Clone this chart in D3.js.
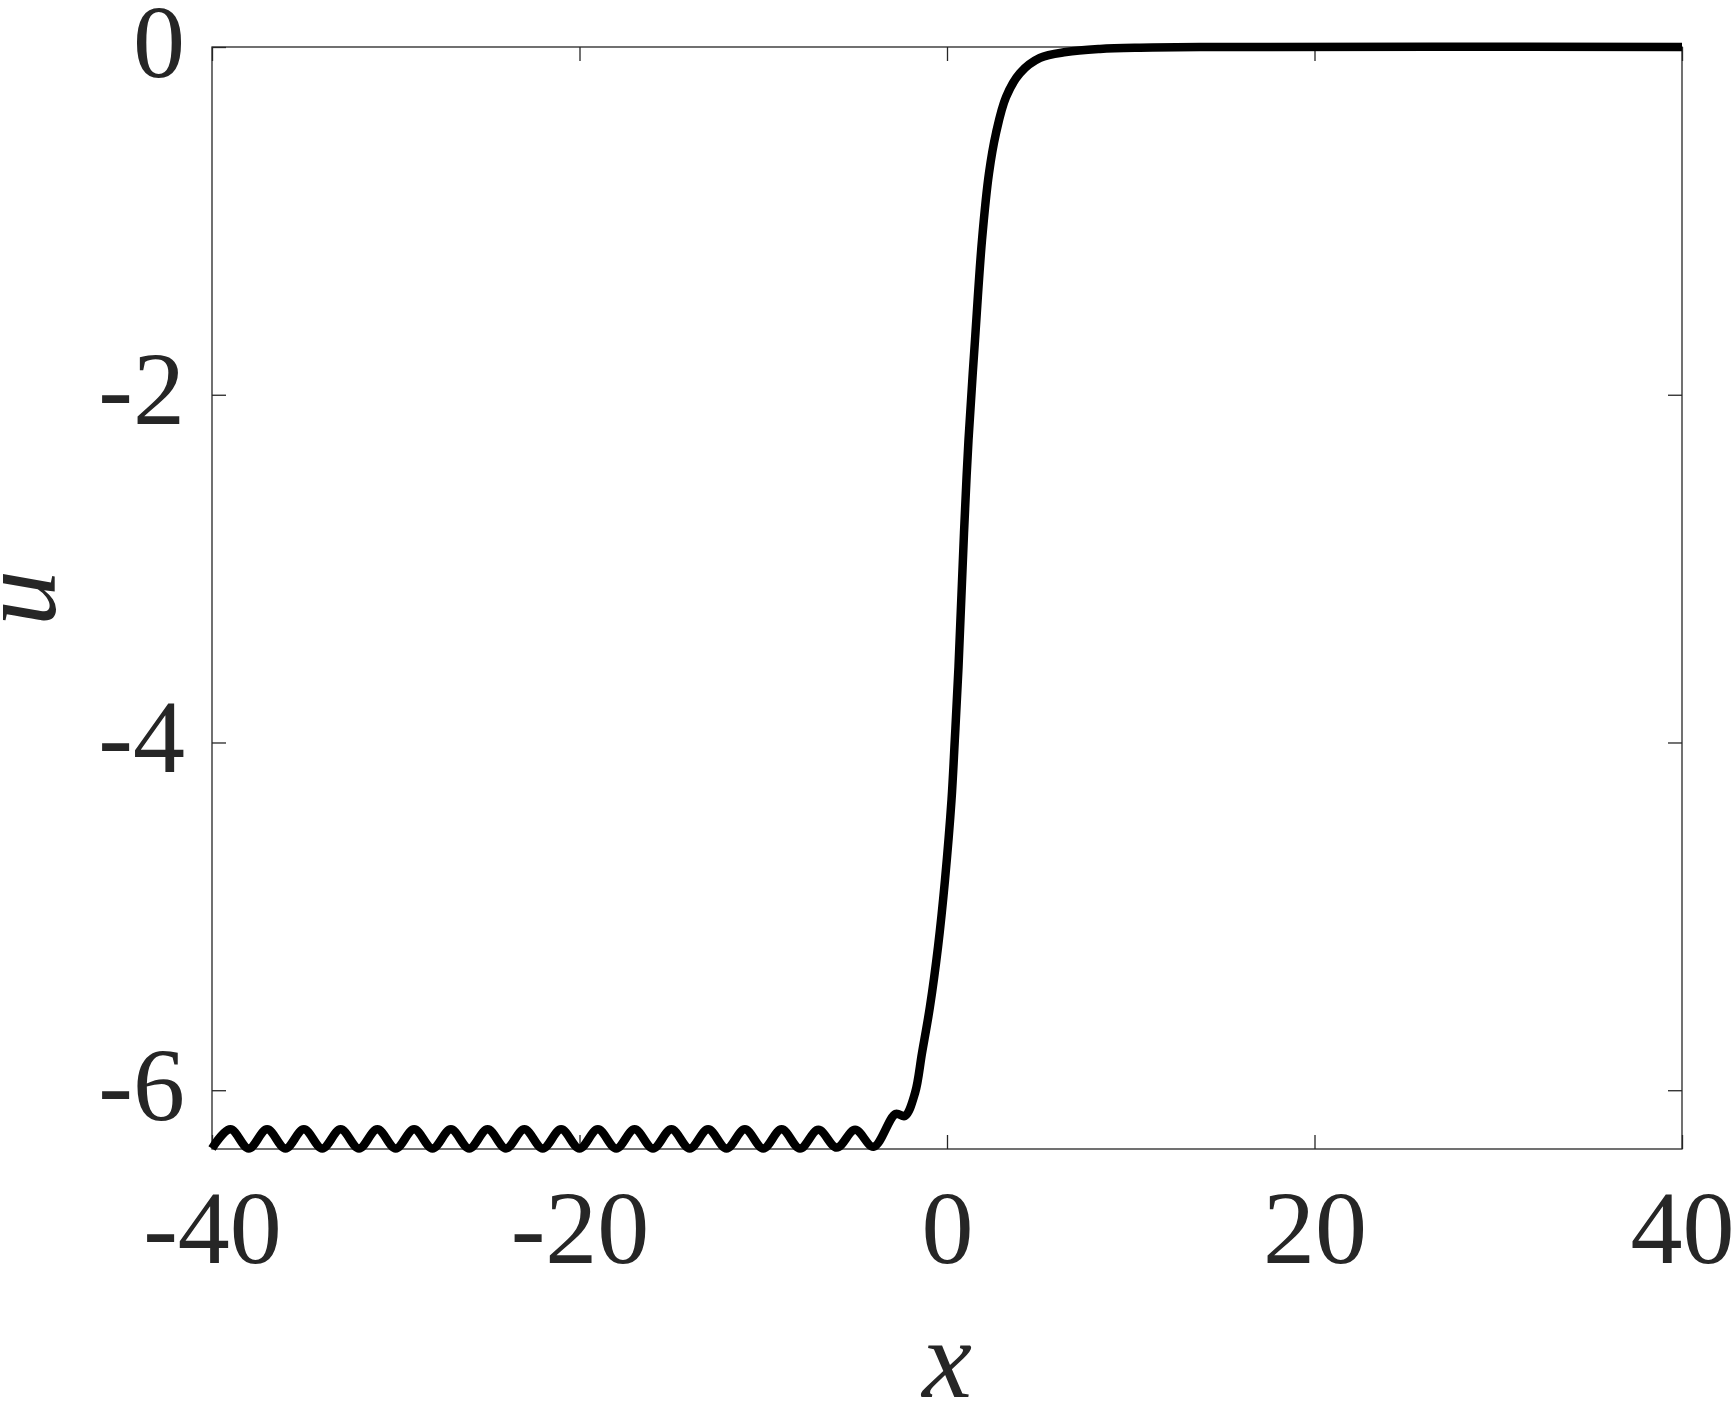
<!DOCTYPE html>
<html>
<head>
<meta charset="utf-8">
<script src="https://cdn.jsdelivr.net/npm/d3@7"></script>
<style>
  body { margin: 0; background: #fff; }
  svg { display: block; }
</style>
</head>
<body>
<svg id="chart"></svg>
<script>
// oscillating tail, read at peaks (odd x) and troughs (even x)
const waveX = [-40, -39, -38, -37, -36, -35, -34, -33, -32, -31, -30, -29, -28,
  -27, -26, -25, -24, -23, -22, -21, -20, -19, -18, -17, -16, -15, -14, -13,
  -12, -11, -10, -9, -8, -7, -6, -5, -4]
const waveU = [-6.335, -6.225, -6.335, -6.225, -6.335, -6.225, -6.335, -6.225,
  -6.335, -6.225, -6.335, -6.225, -6.335, -6.225, -6.335, -6.225, -6.335,
  -6.225, -6.335, -6.225, -6.335, -6.225, -6.335, -6.225, -6.335, -6.225,
  -6.335, -6.225, -6.335, -6.225, -6.335, -6.225, -6.335, -6.228, -6.33,
  -6.228, -6.325]

// the front and the flat part on the right
const frontX = [-2.8, -2.29, -1.74, -1.36, -0.93, -0.49, -0.11, 0.245, 0.424,
  0.626, 0.925, 1.17, 1.524, 1.905, 2.286, 2.667, 3.211, 3.973, 5.061, 6.476,
  8.327, 10.5, 13.77, 40]
const frontU = [-6.137, -6.148, -6.016, -5.786, -5.521, -5.176, -4.791, -4.331,
  -3.986, -3.566, -2.795, -2.26, -1.685, -1.11, -0.725, -0.495, -0.288, -0.15,
  -0.063, -0.029, -0.0115, -0.004, 0, 0]

const xTicks = [-40, -20, 0, 20, 40]
const yTicks = [0, -2, -4, -6]
const xDomain = [-40, 40]
const yDomain = [-6.338, 0]

const width = 1733
const height = 1401
const margin = { top: 47, right: 51, bottom: 252, left: 212 }
const innerW = width - margin.left - margin.right
const innerH = height - margin.top - margin.bottom
const ink = '#262626'
const tickFont = '"Liberation Serif", "DejaVu Serif", serif'

const svg = d3.select('#chart')
  .attr('width', width)
  .attr('height', height)

const g = svg.append('g')
  .attr('transform', `translate(${margin.left},${margin.top})`)

const xScale = d3.scaleLinear().domain(xDomain).range([0, innerW])
const yScale = d3.scaleLinear().domain(yDomain).range([innerH, 0])

/**
 * Styles an axis group drawn by d3: no domain path, inward ticks, serif labels.
 *
 * @param {*} sel The axis selection
 */
function styleAxis (sel) {
  sel.select('.domain').remove()
  sel.attr('font-family', tickFont)
    .attr('font-size', 104)
  sel.selectAll('.tick line')
    .attr('stroke', ink)
    .attr('stroke-width', 1.3)
  sel.selectAll('.tick text')
    .attr('fill', ink)
}

// bottom and top
g.append('g')
  .attr('transform', `translate(0,${innerH})`)
  .call(d3.axisBottom(xScale).tickValues(xTicks).tickSizeInner(-14)
    .tickSizeOuter(0).tickFormat(d => String(d)))
  .call(styleAxis)
  .call(a => a.selectAll('.tick text').attr('y', 114).attr('dy', 0))

g.append('g')
  .call(d3.axisTop(xScale).tickValues(xTicks).tickSizeInner(-14)
    .tickSizeOuter(0).tickFormat(''))
  .call(styleAxis)

// left and right
g.append('g')
  .call(d3.axisLeft(yScale).tickValues(yTicks).tickSizeInner(-14)
    .tickSizeOuter(0).tickFormat(d => String(d)))
  .call(styleAxis)
  .call(a => a.selectAll('.tick text').attr('x', -27).attr('dy', 29))

g.append('g')
  .attr('transform', `translate(${innerW},0)`)
  .call(d3.axisRight(yScale).tickValues(yTicks).tickSizeInner(-14)
    .tickSizeOuter(0).tickFormat(''))
  .call(styleAxis)

// box
g.append('rect')
  .attr('width', innerW)
  .attr('height', innerH)
  .attr('fill', 'none')
  .attr('stroke', ink)
  .attr('stroke-width', 1.3)

// the curve
const points = waveX.map((x, i) => [x, waveU[i]])
  .concat(frontX.map((x, i) => [x, frontU[i]]))

const line = d3.line()
  .x(d => xScale(d[0]))
  .y(d => yScale(d[1]))
  .curve(d3.curveCatmullRom.alpha(0.5))

g.append('path')
  .datum(points)
  .attr('d', line)
  .attr('fill', 'none')
  .attr('stroke', '#000')
  .attr('stroke-width', 8.5)
  .attr('stroke-linejoin', 'round')
  .attr('stroke-linecap', 'butt')

// axis labels
svg.append('text')
  .attr('x', margin.left + innerW / 2)
  .attr('y', 1397)
  .attr('text-anchor', 'middle')
  .attr('font-family', tickFont)
  .attr('font-style', 'italic')
  .attr('font-size', 112)
  .attr('fill', ink)
  .text('x')

svg.append('text')
  .attr('transform', `translate(55,${margin.top + innerH / 2}) rotate(-90)`)
  .attr('text-anchor', 'middle')
  .attr('font-family', tickFont)
  .attr('font-style', 'italic')
  .attr('font-size', 112)
  .attr('fill', ink)
  .text('u')
</script>
</body>
</html>
